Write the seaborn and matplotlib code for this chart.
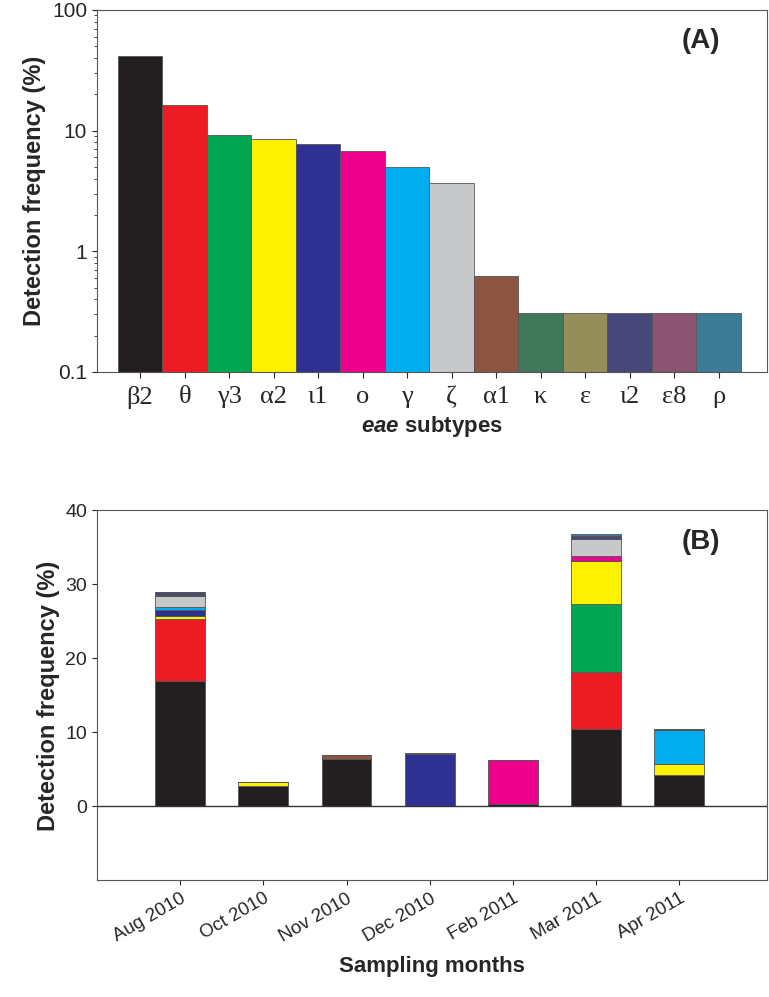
import numpy as np
import pandas as pd
import matplotlib.pyplot as plt
import seaborn as sns

sns.set_style("ticks")
plt.rcParams["font.family"] = ["Liberation Sans", "DejaVu Sans"]
plt.rcParams["mathtext.fontset"] = "custom"
plt.rcParams["mathtext.it"] = "Liberation Sans:italic:bold"

# panel A: overall detection frequency per eae subtype
subtypes = ["β2", "θ", "γ3", "α2", "ι1", "ο", "γ", "ζ", "α1", "κ", "ε", "ι2", "ε8", "ρ"]
overall = [41.7, 16.3, 9.2, 8.6, 7.7, 6.8, 5.0, 3.7, 0.62, 0.31, 0.31, 0.31, 0.31, 0.31]
colors = ["#231f20", "#ed1c24", "#00a651", "#fff200", "#2e3192", "#ec008c", "#00aeef",
          "#c7c8ca", "#8c5541", "#41775a", "#958d5a", "#48477a", "#8a5472", "#3b7b95"]

# panel B: stacked detection frequency per sampling month (same subtype order)
months = ["Aug 2010", "Oct 2010", "Nov 2010", "Dec 2010", "Feb 2011", "Mar 2011", "Apr 2011"]
b2 = [17.0, 2.7, 6.35, 0.0, 0.3, 10.4, 4.3]
theta = [8.3, 0.0, 0.0, 0.0, 0.0, 7.8, 0.0]
g3 = [0.0, 0.0, 0.0, 0.0, 0.0, 9.2, 0.0]
a2 = [0.5, 0.6, 0.0, 0.0, 0.0, 5.8, 1.4]
i1 = [0.7, 0.0, 0.0, 7.1, 0.0, 0.0, 0.0]
omi = [0.0, 0.0, 0.0, 0.0, 6.0, 0.6, 0.0]
gam = [0.5, 0.0, 0.0, 0.0, 0.0, 0.0, 4.6]
zeta = [1.4, 0.0, 0.0, 0.0, 0.0, 2.3, 0.0]
a1 = [0.0, 0.0, 0.65, 0.0, 0.0, 0.0, 0.0]
kappa = [0.2, 0.0, 0.0, 0.0, 0.0, 0.0, 0.0]
eps = [0.0, 0.0, 0.0, 0.0, 0.0, 0.0, 0.0]
i2 = [0.4, 0.0, 0.0, 0.0, 0.0, 0.4, 0.1]
e8 = [0.0, 0.0, 0.0, 0.15, 0.0, 0.0, 0.0]
rho = [0.0, 0.0, 0.0, 0.0, 0.0, 0.3, 0.0]
stacks = [b2, theta, g3, a2, i1, omi, gam, zeta, a1, kappa, eps, i2, e8, rho]

fig = plt.figure(figsize=(7.69, 9.97), dpi=100)
ax1 = fig.add_axes([0.126, 0.627, 0.871, 0.363])
ax2 = fig.add_axes([0.126, 0.117, 0.871, 0.371])

df_a = pd.DataFrame({"subtype": subtypes, "freq": overall})
sns.barplot(data=df_a, x="subtype", y="freq", hue="subtype", palette=colors,
            saturation=1, width=1.0, edgecolor="#555555", linewidth=0.6,
            legend=False, ax=ax1)
ax1.set_yscale("log")
ax1.set_ylim(0.1, 100)
ax1.set_xlim(-0.97, 14.08)
ax1.set_yticks([0.1, 1, 10, 100])
ax1.set_yticklabels(["0.1", "1", "10", "100"])
ax1.tick_params(axis="x", labelsize=19, length=4, pad=6)
for lab in ax1.get_xticklabels():
    lab.set_family("Liberation Serif")
ax1.tick_params(axis="y", labelsize=15)
ax1.set_xlabel("$\\it{eae}$ subtypes", fontsize=16, fontweight="bold", labelpad=4)
ax1.set_ylabel("Detection frequency (%)", fontsize=17, fontweight="bold")
ax1.text(0.93, 0.95, "(A)", transform=ax1.transAxes, ha="right", va="top",
         fontsize=20, fontweight="bold")

x = np.arange(len(months))
bottom = np.zeros(len(months))
for vals, col in zip(stacks, colors):
    vals = np.array(vals)
    ax2.bar(x, vals, bottom=bottom, width=0.6, color=col,
            edgecolor="#555555", linewidth=0.6)
    bottom += vals
ax2.axhline(0, color="#333333", lw=1)
ax2.set_xlim(-1.0, 7.05)
ax2.set_ylim(-10, 40)
ax2.set_yticks([0, 10, 20, 30, 40])
ax2.set_xticks(x)
ax2.set_xticklabels(months, rotation=30, ha="right", rotation_mode="anchor")
ax2.tick_params(axis="x", labelsize=13.5)
ax2.tick_params(axis="y", labelsize=14)
ax2.set_xlabel("Sampling months", fontsize=16, fontweight="bold", labelpad=8)
ax2.set_ylabel("Detection frequency (%)", fontsize=17, fontweight="bold")
ax2.text(0.93, 0.95, "(B)", transform=ax2.transAxes, ha="right", va="top",
         fontsize=20, fontweight="bold")

for ax in (ax1, ax2):
    for s in ax.spines.values():
        s.set_color("#555555")

fig.savefig("out.png", dpi=100)
